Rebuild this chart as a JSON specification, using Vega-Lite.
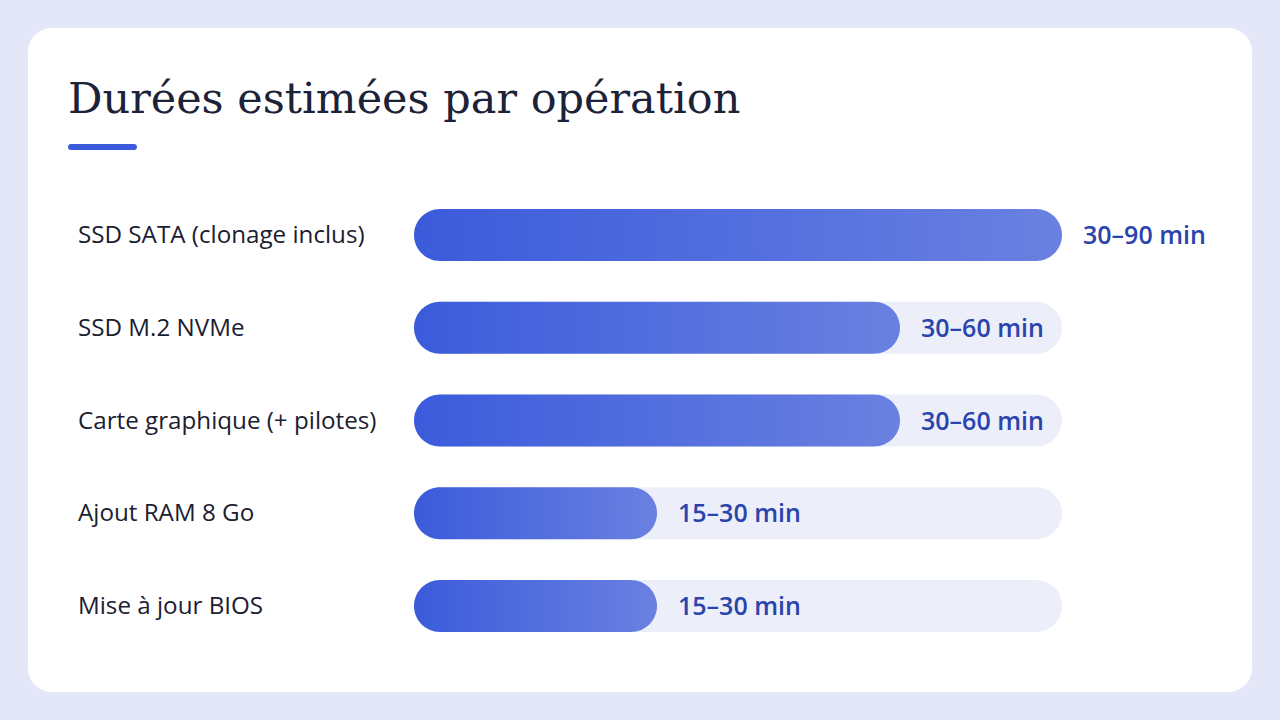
{
  "$schema": "https://vega.github.io/schema/vega-lite/v6.json",
  "width": 1224,
  "height": 664,
  "padding": {"left": 28, "top": 28, "right": 28, "bottom": 28},
  "autosize": {"type": "none"},
  "background": "#e4e7f7",
  "config": {
    "view": {"fill": "white", "cornerRadius": 24, "stroke": null}
  },
  "datasets": {
    "ops": [
      {"operation": "SSD SATA (clonage inclus)", "duree": 60, "label": "30–90 min"},
      {"operation": "SSD M.2 NVMe", "duree": 45, "label": "30–60 min"},
      {"operation": "Carte graphique (+ pilotes)", "duree": 45, "label": "30–60 min"},
      {"operation": "Ajout RAM 8 Go", "duree": 22.5, "label": "15–30 min"},
      {"operation": "Mise à jour BIOS", "duree": 22.5, "label": "15–30 min"}
    ],
    "titre": [{"titre": "Durées estimées par opération"}]
  },
  "layer": [
    {
      "data": {"name": "ops"},
      "encoding": {
        "y": {"field": "operation", "type": "nominal", "sort": null, "axis": null,
              "scale": {"range": [160.6, 624.4], "paddingInner": 0, "paddingOuter": 0}}
      },
      "layer": [
        {
          "mark": {"type": "bar", "cornerRadius": 26, "color": "#eceffa", "height": 52},
          "encoding": {
            "x": {"datum": 60, "type": "quantitative", "axis": null,
                  "scale": {"domain": [-35.7407, 77.5926], "nice": false, "zero": false}},
            "x2": {"datum": 0}
          }
        },
        {
          "mark": {"type": "bar", "cornerRadius": 26, "height": 52,
                   "color": {"gradient": "linear", "x1": 0, "x2": 1, "y1": 0, "y2": 0,
                             "stops": [{"offset": 0, "color": "#3b5bdb"}, {"offset": 1, "color": "#6a81e1"}]}},
          "encoding": {
            "x": {"field": "duree", "type": "quantitative"},
            "x2": {"datum": 0}
          }
        },
        {
          "mark": {"type": "text", "align": "left", "baseline": "middle", "dx": 21, "dy": 1,
                   "font": "Open Sans", "fontSize": 25, "fontWeight": 600, "color": "#2a44ad"},
          "encoding": {
            "x": {"field": "duree", "type": "quantitative"},
            "text": {"field": "label", "type": "nominal"}
          }
        },
        {
          "mark": {"type": "text", "align": "left", "baseline": "middle", "dy": 1,
                   "font": "Open Sans", "fontSize": 24.2, "fontWeight": 500, "color": "#1b2030"},
          "encoding": {
            "x": {"datum": -31.111, "type": "quantitative"},
            "text": {"field": "operation", "type": "nominal"}
          }
        }
      ]
    },
    {
      "data": {"name": "titre"},
      "layer": [
        {
          "mark": {"type": "text", "align": "left", "baseline": "alphabetic",
                   "font": "DejaVu Serif", "fontSize": 43, "color": "#1c2238"},
          "encoding": {
            "x": {"datum": -32.04, "type": "quantitative"},
            "y": {"datum": 85, "type": "quantitative", "axis": null,
                  "scale": {"domain": [664, 0], "nice": false, "zero": false}},
            "text": {"field": "titre", "type": "nominal"}
          }
        },
        {
          "mark": {"type": "rule", "strokeWidth": 6, "strokeCap": "round", "color": "#3b5bdb"},
          "encoding": {
            "x": {"datum": -31.76, "type": "quantitative"},
            "x2": {"datum": -25.93},
            "y": {"datum": 119, "type": "quantitative", "axis": null}
          }
        }
      ]
    }
  ],
  "resolve": {"scale": {"y": "independent"}}
}
